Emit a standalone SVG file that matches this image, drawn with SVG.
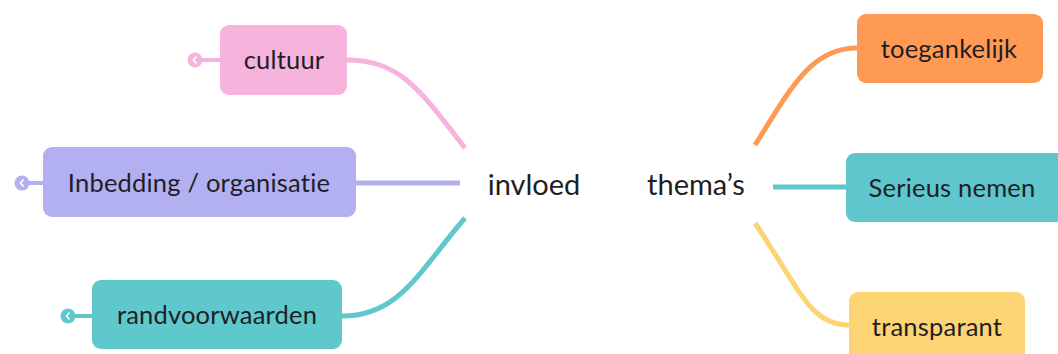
<svg xmlns="http://www.w3.org/2000/svg" width="1058" height="354" viewBox="0 0 1058 354">
<style>
text{font-family:Lato,"Noto Sans","Liberation Sans",sans-serif;fill:#1e1e24;text-anchor:middle;dominant-baseline:central}
.lbl{font-size:25.5px;letter-spacing:0.2px}
.ctr{font-size:29px}
.con{fill:none;stroke-width:5;stroke-linecap:butt}
</style>
<rect width="1058" height="354" fill="#ffffff"/>
<g id="connectors">
<path class="con" stroke="#f6b3dc" d="M347 60 C400 60 420 90 465 148"/>
<path class="con" stroke="#b3b0f2" d="M356 183 L460 183"/>
<path class="con" stroke="#5ec8cc" d="M342 316 C400 316 420 270 465 218"/>
<path class="con" stroke="#ff9a55" d="M857 48 C810 48 790 90 755 145"/>
<path class="con" stroke="#5ec6cc" d="M773 187 L846 187"/>
<path class="con" stroke="#fdd473" d="M755 223 C800 290 810 325 849 325"/>
<line x1="195" y1="60" x2="220" y2="60" stroke="#f6b3dc" stroke-width="4"/>
<line x1="22" y1="183" x2="43" y2="183" stroke="#b3b0f2" stroke-width="4"/>
<line x1="68" y1="316" x2="92" y2="316" stroke="#5ec8cc" stroke-width="4"/>
</g>
<g id="center-invloed"><text class="ctr" x="534" y="183">invloed</text></g>
<g id="center-themas"><text class="ctr" x="696" y="183">thema’s</text></g>
<g id="node-cultuur">
<rect x="220" y="25" width="127" height="70" rx="9" fill="#f6b3dc"/>
<circle cx="195" cy="60" r="7.5" fill="#f6b3dc"/>
<path d="M196.5 56.5 L193.5 60 L196.5 63.5" fill="none" stroke="#fff" stroke-width="1.6"/>
<text class="lbl" x="284" y="59">cultuur</text>
</g>
<g id="node-inbedding">
<rect x="43" y="147" width="313" height="70" rx="9" fill="#b3b0f2"/>
<circle cx="22" cy="183" r="7.5" fill="#b3b0f2"/>
<path d="M23.5 179.5 L20.5 183 L23.5 186.5" fill="none" stroke="#fff" stroke-width="1.6"/>
<text class="lbl" x="199" y="182">Inbedding / organisatie</text>
</g>
<g id="node-randvoorwaarden">
<rect x="92" y="280" width="250" height="69" rx="9" fill="#5ec8cc"/>
<circle cx="68" cy="316" r="7.5" fill="#5ec8cc"/>
<path d="M69.5 312.5 L66.5 316 L69.5 319.5" fill="none" stroke="#fff" stroke-width="1.6"/>
<text class="lbl" x="217" y="314">randvoorwaarden</text>
</g>
<g id="node-toegankelijk">
<rect x="857" y="14" width="186" height="69" rx="9" fill="#ff9a55"/>
<text class="lbl" x="949" y="48">toegankelijk</text>
</g>
<g id="node-serieus">
<rect x="846" y="153" width="225" height="69" rx="9" fill="#5ec6cc"/>
<text class="lbl" x="952" y="187">Serieus nemen</text>
</g>
<g id="node-transparant">
<rect x="849" y="292" width="176" height="75" rx="9" fill="#fdd473"/>
<text class="lbl" x="937" y="326">transparant</text>
</g>
</svg>
